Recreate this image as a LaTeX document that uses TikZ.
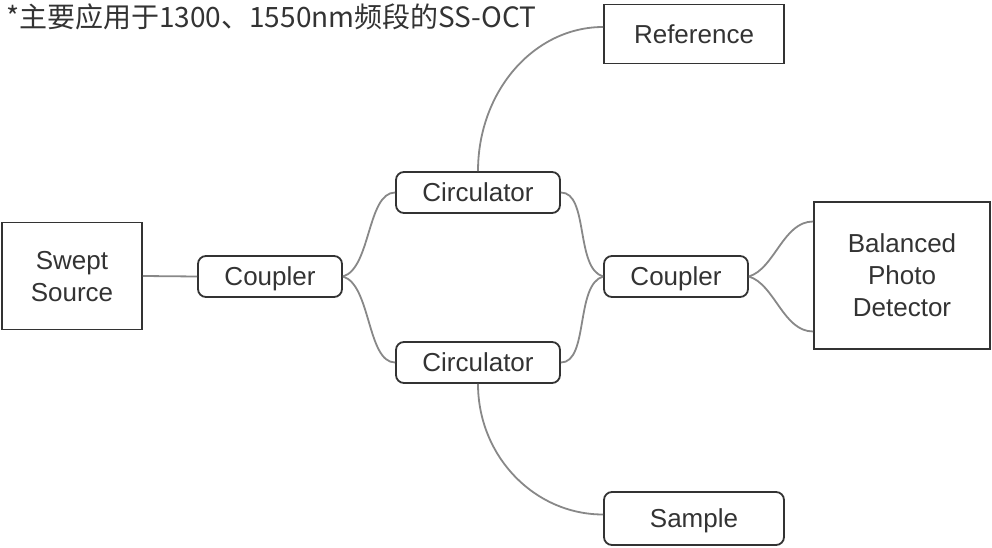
\documentclass[tikz,border=0pt]{standalone}
\usepackage{fontspec}
\setmainfont{Liberation Sans}
\newfontfamily\cjk{Noto Sans CJK SC}
\definecolor{inkgray}{RGB}{51,51,51}
\definecolor{wiregray}{RGB}{136,136,136}
\usetikzlibrary{positioning, calc}
\tikzset{
  sqbox/.style={draw=inkgray, line width=1.8pt, text=inkgray, align=center, inner sep=0pt, text depth=0pt, font=\fontsize{26}{32}\selectfont},
  rndbox/.style={sqbox, rounded corners=8pt},
  wire/.style={draw=wiregray, line width=1.8pt}
}

\begin{document}
\begin{tikzpicture}[x=1pt, y=-1pt]
  \useasboundingbox (0,0) rectangle (992,548);

  \node[anchor=west, inner sep=0pt, text=inkgray, font=\cjk\fontsize{28}{32}\selectfont] (title) at (6,17) {*主要应用于1300、1550nm频段的SS-OCT};

  \node[sqbox, minimum width=140pt, minimum height=107pt] (src) at (72,276) {Swept\\Source};
  \node[rndbox, minimum width=144pt, minimum height=41pt] (cplA) at (270,276.5) {Coupler};
  \node[rndbox, minimum width=164pt, minimum height=41pt] (circT) at (478,192.5) {Circulator};
  \node[rndbox, minimum width=164pt, minimum height=41pt] (circB) at (478,362.5) {Circulator};
  \node[rndbox, minimum width=144pt, minimum height=41pt] (cplB) at (676,276.5) {Coupler};
  \node[sqbox, minimum width=176pt, minimum height=147pt] (bpd) at (902,275.5) {Balanced\\Photo\\Detector};
  \node[sqbox, minimum width=180pt, minimum height=59pt] (ref) at (694,34) {Reference};
  \node[rndbox, minimum width=180pt, minimum height=53pt] (smp) at (694,518.5) {Sample};

  % fibre links
  \draw[wire] (src.east) -- (cplA.west);
  \draw[wire] (cplA.east) .. controls +(28,-8) and +(-28,0) .. (circT.west);
  \draw[wire] (cplA.east) .. controls +(28,8) and +(-28,0) .. (circB.west);
  \draw[wire] (circT.east) .. controls +(28,0) and +(-28,-8) .. (cplB.west);
  \draw[wire] (circB.east) .. controls +(28,0) and +(-28,8) .. (cplB.west);
  \draw[wire] (circT.north) .. controls +(0,-80) and +(-69,0) .. ([yshift=7pt]ref.west);
  \draw[wire] (circB.south) .. controls +(0,72) and +(-69,0) .. ([yshift=4pt]smp.west);
  \draw[wire] (cplB.east) .. controls +(26,-8) and +(-30,0) .. ([yshift=54pt]bpd.west);
  \draw[wire] (cplB.east) .. controls +(26,8) and +(-30,0) .. ([yshift=-56pt]bpd.west);
\end{tikzpicture}
\end{document}
